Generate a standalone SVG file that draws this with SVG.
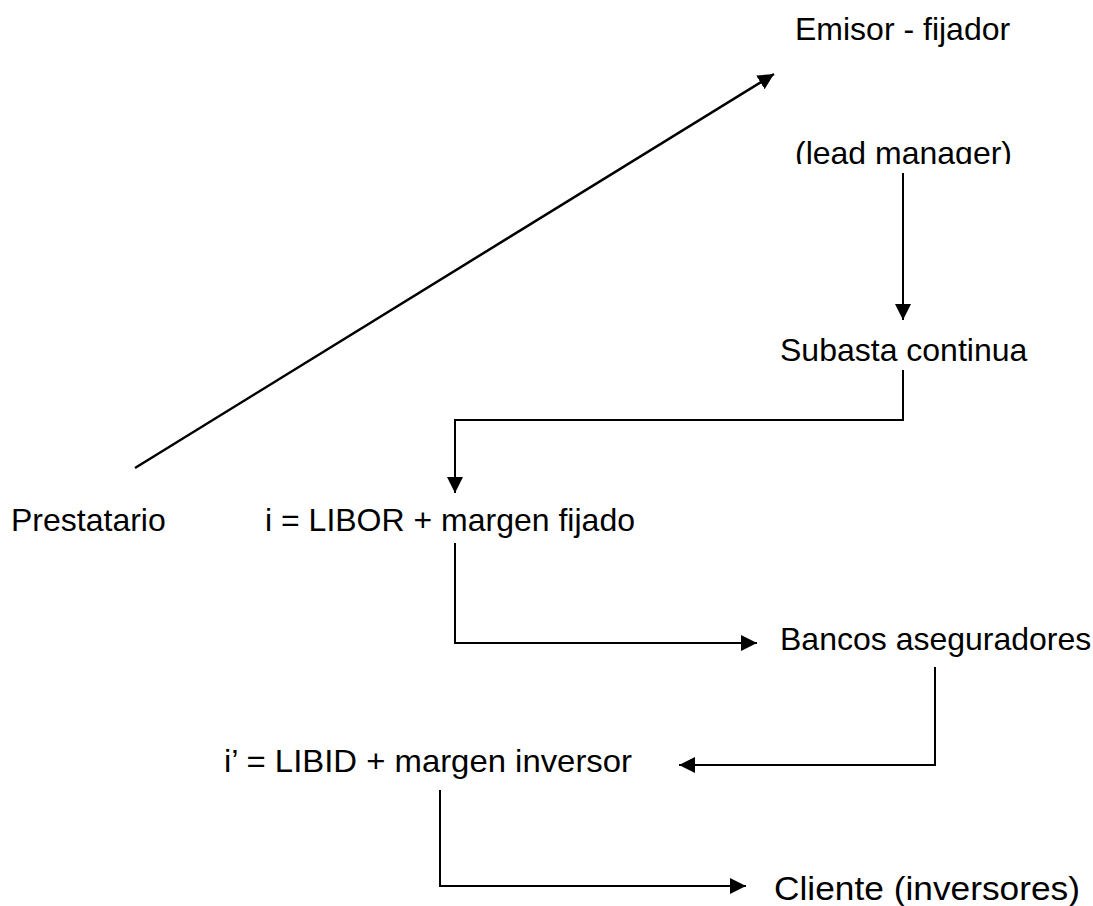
<svg xmlns="http://www.w3.org/2000/svg" width="1093" height="906" viewBox="0 0 1093 906">
<style>
  text { font-family: "Liberation Sans", Arial, sans-serif; font-size: 32px; fill: #000; }
  .c { fill: none; stroke: #000; stroke-width: 2; }
  .d { fill: none; stroke: #000; stroke-width: 2.5; }
</style>
<defs>
  <marker id="ah" markerUnits="userSpaceOnUse" markerWidth="17" markerHeight="17" viewBox="0 0 17 17" refX="16" refY="8.5" orient="auto">
    <path d="M0,0.5 L16,8.5 L0,16.5 z" fill="#000"/>
  </marker>
  <clipPath id="clipLead"><rect x="700" y="100" width="393" height="64"/></clipPath>
</defs>
<rect width="1093" height="906" fill="#fff"/>
<g id="emisor"><text x="795" y="40">Emisor - fijador</text></g>
<g id="lead" clip-path="url(#clipLead)"><text x="795" y="164">(lead manager)</text></g>
<g id="subasta"><text x="780" y="361">Subasta continua</text></g>
<g id="prestatario"><text x="11" y="531">Prestatario</text></g>
<g id="libor"><text x="265" y="531">i = LIBOR + margen fijado</text></g>
<g id="bancos"><text x="780" y="650">Bancos aseguradores</text></g>
<g id="libid"><text x="224" y="772" textLength="408" lengthAdjust="spacingAndGlyphs">i’ = LIBID + margen inversor</text></g>
<g id="cliente"><text x="774" y="900" style="font-size:33px" textLength="306" lengthAdjust="spacingAndGlyphs">Cliente (inversores)</text></g>
<g id="connectors">
  <path class="d" d="M135,468 L774,74" marker-end="url(#ah)"/>
  <path class="c" d="M903,173 V320" marker-end="url(#ah)"/>
  <path class="c" d="M903,370 V420 H455 V493" marker-end="url(#ah)"/>
  <path class="c" d="M455,543 V643 H757" marker-end="url(#ah)"/>
  <path class="c" d="M935,667 V765 H679" marker-end="url(#ah)"/>
  <path class="c" d="M440,790 V886 H746" marker-end="url(#ah)"/>
</g>
</svg>
